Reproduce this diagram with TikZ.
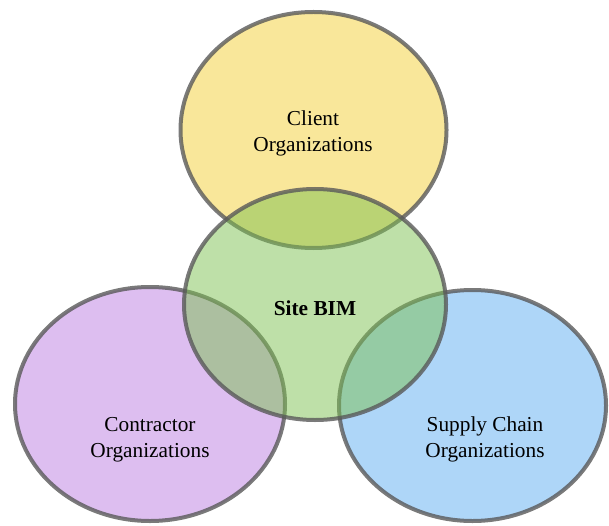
\documentclass[tikz,border=0pt]{standalone}
\usepackage{fontspec}
\setmainfont{Liberation Serif}
\usetikzlibrary{
  shapes.geometric
}
\definecolor{clientyellow}{RGB}{243,207,53}
\definecolor{bimgreen}{RGB}{125,193,81}
\definecolor{contractorpurple}{RGB}{187,125,225}
\definecolor{supplyblue}{RGB}{93,173,241}
\tikzset{
  vennset/.style={
    ellipse,
    draw=black!65,
    draw opacity=0.8,
    line width=4pt,
    fill opacity=0.5,
    inner sep=0pt
  },
  venntext/.style={
    align=center,
    text=black,
    font=\fontsize{21.3}{26}\selectfont
  }
}

\begin{document}
\begin{tikzpicture}[x=1pt,y=-1pt]
  \useasboundingbox (0,0) rectangle (609,526);
  \node[vennset, fill=clientyellow, minimum width=266pt, minimum height=236pt] (client) at (313.5,130) {};
  \node[vennset, fill=contractorpurple, minimum width=270pt, minimum height=234pt] (contractor) at (150,404) {};
  \node[vennset, fill=supplyblue, minimum width=267pt, minimum height=231pt] (supply) at (472.5,405.5) {};
  \node[vennset, fill=bimgreen, minimum width=262pt, minimum height=231pt] (site) at (315,304.5) {};
  % labels
  \node[venntext] (clientlabel) at (313,133) {Client\\Organizations};
  \node[venntext, font=\fontsize{21.3}{26}\selectfont\bfseries] (sitelabel) at (315,308.5) {Site BIM};
  \node[venntext] (contractorlabel) at (150,439.5) {Contractor\\Organizations};
  \node[venntext] (supplylabel) at (485,439.5) {Supply Chain\\Organizations};
\end{tikzpicture}
\end{document}
